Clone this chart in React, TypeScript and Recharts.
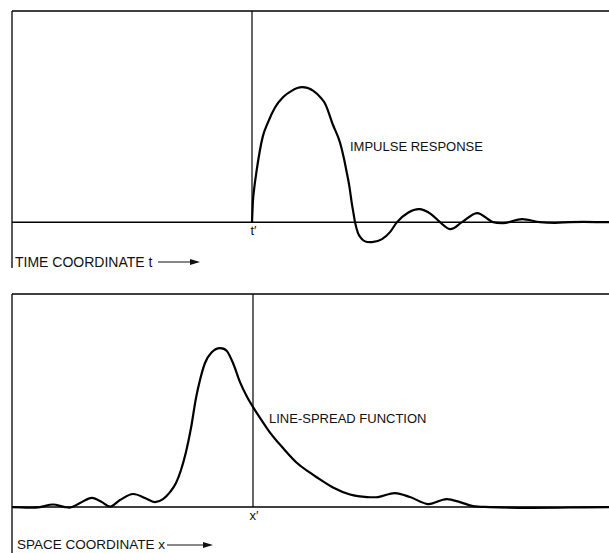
import React from "react";
import { Line, LineChart, ReferenceDot, ReferenceLine, XAxis, YAxis } from "recharts";

// time axis, t' = 0 (arbitrary units)
const impulseT = [
  0, 0.1, 0.2, 0.47, 1.07, 1.6, 2.3, 3.1, 4.0, 5.0, 6.1, 6.9, 7.3, 8.1, 8.8, 9.2, 9.47, 9.75, 9.97, 10.15,
  10.3, 10.6, 11.0, 12.0, 13.0, 13.8, 14.5, 15.6, 16.8, 17.9, 18.8, 19.8, 21.0, 22.5, 24.1, 25.1, 27.0, 28.8,
  30.3, 31.8, 35.7,
];
// impulse response, peak = 100
const impulseValues = [
  0, 16.3, 23.7, 38.5, 63.2, 74, 85, 92.5, 97.5, 100, 97.5, 92, 88, 72, 59, 47, 37, 26, 14.5, 6.5,
  0, -8.1, -12.6, -14.8, -12.6, -7.4, 0, 7, 9.6, 5.9, 0, -5.2, 0, 6.7, 0, -0.7, 2.2, 0,
  -0.5, 0, 0,
];

// space axis, x' = 0
const spaceX = [
  -24.1, -21.3, -20.0, -18.8, -18.3, -17.3, -16.1, -15.1, -14.3, -13.3, -12.0, -10.8, -9.8, -9.0, -8.3, -7.7,
  -7.2, -6.7, -6.2, -5.7, -5.3, -4.8, -4.1, -3.3, -2.6, -2.0, -1.3, -0.6, 0.1, 0.8, 1.5, 3.0, 4.4, 5.7, 6.4,
  8.0, 9.7, 11.4, 12.5, 14.2, 15.7, 17.5, 19.4, 20.7, 22.0, 23.7, 35.6,
];
// line-spread function, peak = 100
const spreadValues = [
  0, 0, 1.6, 0, -0.3, 2.5, 5.8, 3.1, 0.3, 4.4, 8.2, 5.7, 3.1, 5.0, 9.4, 15.1,
  23.3, 34.6, 49.7, 68.6, 79.9, 90.6, 97.5, 100, 98.1, 90.6, 78.6, 69.4, 61.9, 55.2, 48.6, 37.1, 27.7, 21.6, 18.6,
  12.3, 7.9, 6.3, 6.3, 8.8, 6.3, 1.9, 5.0, 3.1, 0.6, 0, 0,
];

const TIME_DOMAIN: [number, number] = [-24, 35.7];
const IMPULSE_DOMAIN: [number, number] = [-34, 156.5];
const SPACE_DOMAIN: [number, number] = [-24.1, 35.6];
const SPREAD_DOMAIN: [number, number] = [-28.9, 134];

const FONT = "'Liberation Sans', Arial, Helvetica, sans-serif";
const INK = "#111";

const impulseData = impulseT.map((t, i) => ({ t, v: impulseValues[i] }));
const spreadData = spaceX.map((x, i) => ({ x, v: spreadValues[i] }));

type Ctx = {
  moveTo: (x: number, y: number) => void;
  bezierCurveTo: (a: number, b: number, c: number, d: number, e: number, f: number) => void;
};

// smooth hermite curve through the points, slopes from the parabola through neighbours
// (like monotoneX but without flattening every local extreme)
function smoothCurve(context: Ctx) {
  let pts: [number, number][] = [];
  return {
    areaStart() {},
    areaEnd() {},
    lineStart() {
      pts = [];
    },
    point(x: number, y: number) {
      pts.push([+x, +y]);
    },
    lineEnd() {
      const n = pts.length;
      if (!n) return;
      context.moveTo(pts[0][0], pts[0][1]);
      if (n === 1) return;
      const m: number[] = [];
      for (let i = 0; i < n; i++) {
        if (i === 0) m.push((pts[1][1] - pts[0][1]) / (pts[1][0] - pts[0][0] || 1));
        else if (i === n - 1) m.push((pts[i][1] - pts[i - 1][1]) / (pts[i][0] - pts[i - 1][0] || 1));
        else {
          const h0 = pts[i][0] - pts[i - 1][0] || 1;
          const h1 = pts[i + 1][0] - pts[i][0] || 1;
          const s0 = (pts[i][1] - pts[i - 1][1]) / h0;
          const s1 = (pts[i + 1][1] - pts[i][1]) / h1;
          m.push((s0 * h1 + s1 * h0) / (h0 + h1));
        }
      }
      for (let i = 0; i < n - 1; i++) {
        const [x0, y0] = pts[i];
        const [x1, y1] = pts[i + 1];
        const h = (x1 - x0) / 3;
        context.bezierCurveTo(x0 + h, y0 + m[i] * h, x1 - h, y1 - m[i + 1] * h, x1, y1);
      }
    },
  };
}

type DotProps = { cx?: number; cy?: number };

function textShape(text: string, size: number, anchor: "start" | "middle" = "start") {
  return (p: DotProps) => (
    <text x={p.cx} y={p.cy} fontSize={size} fontFamily={FONT} fill={INK} textAnchor={anchor}>
      {text}
    </text>
  );
}

// caption under a panel, with its arrow
function captionShape(text: string, size: number, dx: number, dy: number, arrowFrom: number, arrowTo: number, arrowDy: number) {
  return (p: DotProps) => {
    const cx = p.cx ?? 0;
    const cy = p.cy ?? 0;
    const ay = cy - arrowDy;
    return (
      <g>
        <text x={cx + dx} y={cy - dy} fontSize={size} fontFamily={FONT} fill={INK}>
          {text}
        </text>
        <line x1={cx + arrowFrom} y1={ay} x2={cx + arrowTo - 8} y2={ay} stroke={INK} strokeWidth={1.2} />
        <polygon points={`${cx + arrowTo},${ay} ${cx + arrowTo - 10},${ay - 3} ${cx + arrowTo - 10},${ay + 3}`} fill={INK} />
      </g>
    );
  };
}

function ImpulsePanel() {
  return (
    <LineChart width={609} height={280} data={impulseData} margin={{ top: 11, right: 0, bottom: 12, left: 12 }}>
      <XAxis type="number" dataKey="t" domain={TIME_DOMAIN} allowDataOverflow hide />
      <YAxis type="number" domain={IMPULSE_DOMAIN} allowDataOverflow hide />
      <ReferenceLine y={IMPULSE_DOMAIN[1]} stroke="#000" strokeWidth={1.5} ifOverflow="visible" />
      <ReferenceLine x={TIME_DOMAIN[0]} stroke="#000" strokeWidth={1.3} ifOverflow="visible" />
      <ReferenceLine y={0} stroke="#000" strokeWidth={1.5} ifOverflow="visible" />
      <ReferenceLine
        segment={[{ x: 0, y: 0 }, { x: 0, y: IMPULSE_DOMAIN[1] }]}
        stroke="#000"
        strokeWidth={1.2}
        ifOverflow="visible"
      />
      <Line type={smoothCurve as any} dataKey="v" stroke="#000" strokeWidth={2.2} dot={false} isAnimationActive={false} />
      <ReferenceDot x={9.8} y={52.6} r={0} ifOverflow="visible" shape={textShape("IMPULSE RESPONSE", 13)} />
      <ReferenceDot x={0.15} y={-9.6} r={0} ifOverflow="visible" shape={textShape("t\u2032", 13, "middle")} />
      <ReferenceDot
        x={TIME_DOMAIN[0]}
        y={IMPULSE_DOMAIN[0]}
        r={0}
        ifOverflow="visible"
        shape={captionShape("TIME COORDINATE t", 14, 3, 1, 146, 188, 6)}
      />
    </LineChart>
  );
}

function SpreadPanel() {
  return (
    <LineChart width={609} height={273} data={spreadData} margin={{ top: 14, right: 0, bottom: 0, left: 12 }}>
      <XAxis type="number" dataKey="x" domain={SPACE_DOMAIN} allowDataOverflow hide />
      <YAxis type="number" domain={SPREAD_DOMAIN} allowDataOverflow hide />
      <ReferenceLine y={SPREAD_DOMAIN[1]} stroke="#000" strokeWidth={1.5} ifOverflow="visible" />
      <ReferenceLine x={SPACE_DOMAIN[0]} stroke="#000" strokeWidth={1.3} ifOverflow="visible" />
      <ReferenceLine y={0} stroke="#000" strokeWidth={1.5} ifOverflow="visible" />
      <ReferenceLine
        segment={[{ x: 0, y: 0 }, { x: 0, y: SPREAD_DOMAIN[1] }]}
        stroke="#000"
        strokeWidth={1.2}
        ifOverflow="visible"
      />
      <Line type={smoothCurve as any} dataKey="v" stroke="#000" strokeWidth={2.2} dot={false} isAnimationActive={false} />
      <ReferenceDot x={1.6} y={52.8} r={0} ifOverflow="visible" shape={textShape("LINE-SPREAD FUNCTION", 13)} />
      <ReferenceDot x={0.1} y={-8.2} r={0} ifOverflow="visible" shape={textShape("x\u2032", 13, "middle")} />
      <ReferenceDot
        x={SPACE_DOMAIN[0]}
        y={SPREAD_DOMAIN[0]}
        r={0}
        ifOverflow="visible"
        shape={captionShape("SPACE COORDINATE x", 13.5, 5, 4, 155, 201, 8)}
      />
    </LineChart>
  );
}

export default function App() {
  return (
    <div style={{ position: "absolute", left: 0, top: 0, width: 609, height: 553, background: "#fff", overflow: "hidden" }}>
      <ImpulsePanel />
      <SpreadPanel />
    </div>
  );
}
